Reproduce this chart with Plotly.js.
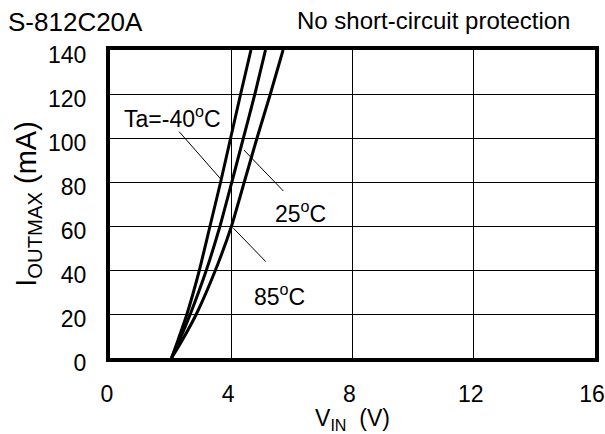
<!DOCTYPE html>
<html>
<head>
<meta charset="utf-8">
<script src="https://cdn.plot.ly/plotly-3.0.1.min.js"></script>
<style>
  html, body { margin: 0; padding: 0; background: #fff; }
  #chart { width: 605px; height: 434px; }
</style>
</head>
<body>
<div id="chart"></div>
<script>
// Input current (mA) levels sampled along each curve
const currentLevels = [0, 8, 20, 40, 60, 80, 100, 120, 140];
// Input voltage (V) at each current level
const vinMinus40 = [2.03, 2.24, 2.54, 2.95, 3.30, 3.65, 3.98, 4.31, 4.65];
const vin25      = [2.03, 2.29, 2.65, 3.18, 3.63, 4.02, 4.40, 4.78, 5.13];
const vin85      = [2.03, 2.38, 2.85, 3.48, 4.01, 4.43, 4.85, 5.29, 5.71];

const xTicks = [0, 4, 8, 12, 16];
const yTicks = [0, 20, 40, 60, 80, 100, 120, 140];

const FONT = 'Liberation Sans, Arial, sans-serif';

function curve(xs) {
  return {
    x: xs, y: currentLevels, type: 'scatter', mode: 'lines',
    line: {color: '#000', width: 3, shape: 'spline', smoothing: 0.5},
    hoverinfo: 'skip', showlegend: false
  };
}

const data = [curve(vinMinus40), curve(vin25), curve(vin85)];

// curve labels and their leader lines (data coords)
const labels = [
  {text: 'Ta=-40<sup>o</sup>C', x: 2.05, y: 109.5, lx: [2.28, 3.65], ly: [102.9, 81.4]},
  {text: '25<sup>o</sup>C', x: 6.3, y: 66.4, lx: [4.42, 5.72], ly: [94.5, 75.9]},
  {text: '85<sup>o</sup>C', x: 5.6, y: 28.6, lx: [4.07, 5.14], ly: [59.0, 43.8]}
];

const annotations = labels.map(l => ({
  text: l.text, x: l.x, y: l.y, xref: 'x', yref: 'y',
  xanchor: 'center', yanchor: 'middle', showarrow: false,
  font: {family: FONT, size: 23, color: '#000'}
}));

annotations.push({
  text: 'S-812C20A', xref: 'paper', yref: 'paper',
  x: -0.215, y: 1.091, xanchor: 'left', yanchor: 'middle', showarrow: false,
  font: {family: FONT, size: 26, color: '#000'}
});
annotations.push({
  text: 'No short-circuit protection', xref: 'paper', yref: 'paper',
  x: 0.952, y: 1.097, xanchor: 'right', yanchor: 'middle', showarrow: false,
  font: {family: FONT, size: 24, color: '#000'}
});

const shapes = labels.map(l => ({
  type: 'line', xref: 'x', yref: 'y',
  x0: l.lx[0], y0: l.ly[0], x1: l.lx[1], y1: l.ly[1],
  line: {color: '#000', width: 1}
}));

const layout = {
  width: 605, height: 434,
  margin: {l: 110, r: 10, t: 50, b: 76},
  paper_bgcolor: '#fff', plot_bgcolor: '#fff',
  font: {family: FONT, color: '#000'},
  xaxis: {
    range: [0, 16], tickvals: xTicks, ticktext: xTicks.map(String),
    showgrid: true, gridcolor: '#000', gridwidth: 1,
    showline: true, linecolor: '#000', linewidth: 4, mirror: true,
    zeroline: false, ticks: '', ticklabelstandoff: 12, ticklabelshift: -3,
    ticklabeloverflow: 'allow',
    tickfont: {family: FONT, size: 23, color: '#000'},
    title: {text: 'V<sub>IN</sub>  (V)', standoff: 0, font: {family: FONT, size: 23, color: '#000'}},
    fixedrange: true
  },
  yaxis: {
    range: [0, 140], tickvals: yTicks, ticktext: yTicks.map(String),
    showgrid: true, gridcolor: '#000', gridwidth: 1,
    showline: true, linecolor: '#000', linewidth: 4, mirror: true,
    zeroline: false, ticks: '', ticklabelstandoff: 15, ticklabelshift: 5,
    ticklabeloverflow: 'allow',
    tickfont: {family: FONT, size: 23, color: '#000'},
    title: {text: 'I<sub>OUTMAX</sub> (mA)', standoff: 4, font: {family: FONT, size: 29, color: '#000'}},
    fixedrange: true
  },
  annotations: annotations,
  shapes: shapes
};

Plotly.newPlot('chart', data, layout, {displayModeBar: false, staticPlot: true});
</script>
</body>
</html>
